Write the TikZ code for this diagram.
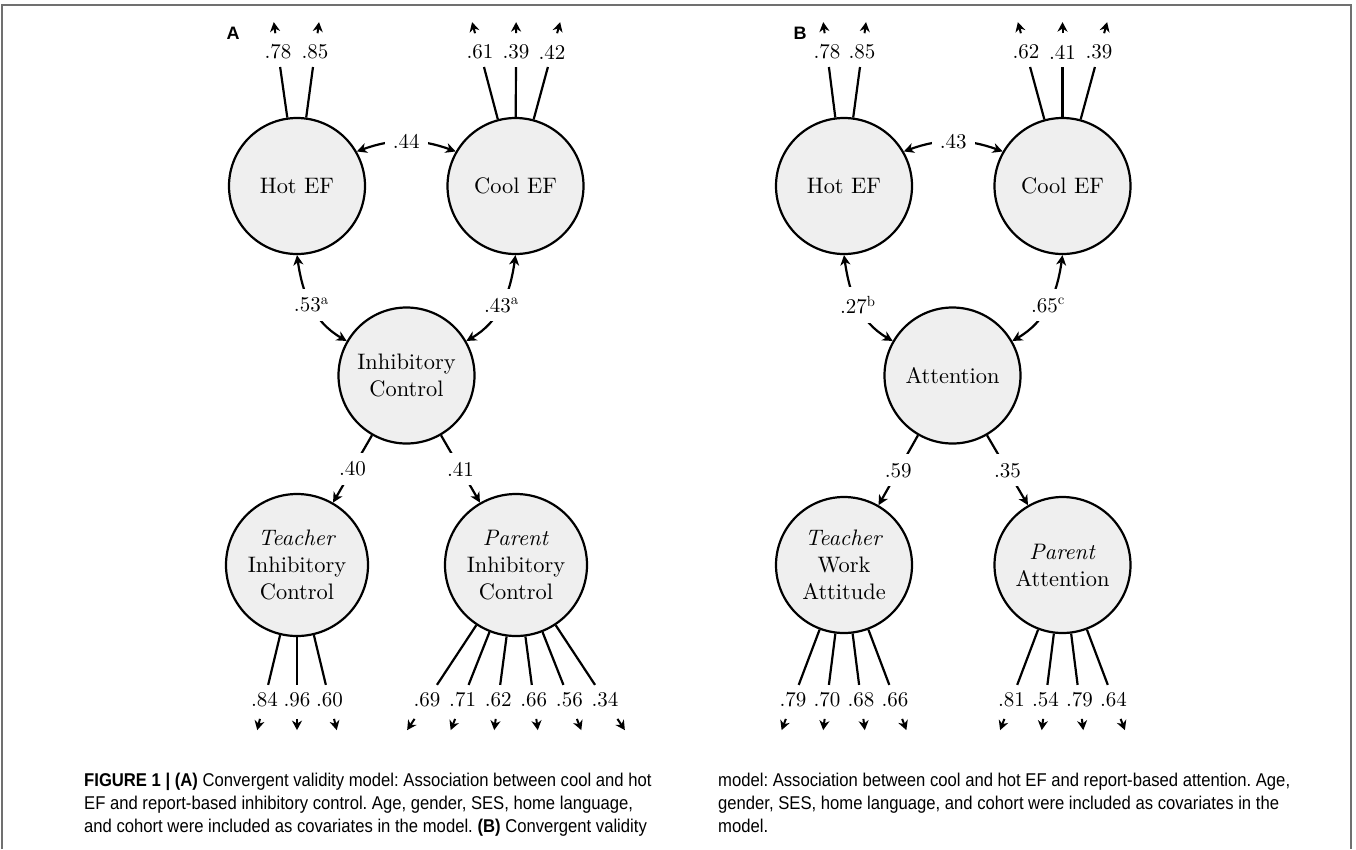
\documentclass[tikz,border=0pt]{standalone}
\usepackage{fontspec}
\setmainfont{lmroman10}[Extension=.otf, UprightFont=*-regular, ItalicFont=*-italic, BoldFont=*-bold]
\newfontfamily\capfont[FakeStretch=0.9]{Liberation Sans}
\newfontfamily\panfont{Liberation Sans}
\usetikzlibrary{arrows.meta,calc}
\definecolor{latfill}{HTML}{EFEFEF}
\definecolor{framecol}{HTML}{707070}
\newcommand\myind[5]{%
  \node[lab] (#2) at (#3,#4) {#5};
  \coordinate (#2e) at ($(#1.center)!0.888!(#2.center)$);
  \coordinate (#2s) at ($(#1.center)!1.14!(#2.center)$);
  \coordinate (#2t) at ($(#1.center)!1.223!(#2.center)$);
  \draw[indline] (#1) -- (#2e);
  \draw[indarr] (#2s) -- (#2t);
}
\newcommand\sups[1]{\textsuperscript{#1}}
\begin{document}
\begin{tikzpicture}[x=1pt,y=1pt,
  lat/.style={circle, draw, line width=2.2pt, fill=latfill, minimum size=136pt, inner sep=0pt, align=center, font=\fontsize{22.4}{27}\selectfont},
  latb/.style={lat, minimum size=142pt},
  lab/.style={inner sep=0pt, font=\fontsize{21}{25}\selectfont},
  clab/.style={fill=white, inner xsep=8pt, inner ysep=9pt, font=\fontsize{21}{25}\selectfont},
  indline/.style={line width=2.2pt},
  indarr/.style={line width=2pt, -{Stealth[length=9.5pt,width=10pt,inset=3pt]}},
  cov/.style={line width=2.2pt, {Stealth[length=10pt,width=10pt,inset=3pt]}-{Stealth[length=10pt,width=10pt,inset=3pt]}},
  path/.style={line width=2.2pt, -{Stealth[length=10pt,width=10pt,inset=3pt]}},
  panlab/.style={font=\panfont\bfseries\fontsize{18}{21}\selectfont, inner sep=0pt},
  capline/.style={anchor=base west, inner sep=0pt, font=\capfont\frenchspacing\fontsize{18.5}{22}\selectfont}
]
\useasboundingbox (0,0) rectangle (1356,-849);
% frame
\draw[framecol, line width=2pt] (2,-849) -- (2,-5) -- (1351,-5) -- (1351,-849);

% ---------------- Panel A ----------------
\node[panlab] (pA) at (233,-33) {A};
\node[lat] (hotA) at (297,-186) {Hot EF};
\node[lat] (coolA) at (515.5,-186) {Cool EF};
\node[lat] (icA) at (406.5,-375.5) {Inhibitory\\Control};
\node[latb] (tA) at (297,-565) {\textit{Teacher}\\Inhibitory\\Control};
\node[latb] (pAr) at (516,-565) {\textit{Parent}\\Inhibitory\\Control};

\myind{hotA}{ha1}{278}{-52}{.78}
\myind{hotA}{ha2}{315}{-52}{.85}
\myind{coolA}{ca1}{480}{-52}{.61}
\myind{coolA}{ca2}{516}{-52}{.39}
\myind{coolA}{ca3}{552}{-52}{.42}

\myind{tA}{ta1}{264.5}{-700}{.84}
\myind{tA}{ta2}{297}{-700}{.96}
\myind{tA}{ta3}{329.5}{-700}{.60}
\myind{pAr}{pa1}{427}{-700}{.69}
\myind{pAr}{pa2}{462.6}{-700}{.71}
\myind{pAr}{pa3}{498.2}{-700}{.62}
\myind{pAr}{pa4}{533.8}{-700}{.66}
\myind{pAr}{pa5}{569.4}{-700}{.56}
\myind{pAr}{pa6}{605}{-700}{.34}

\draw[cov] (hotA.30) to[bend left=20] node[clab] {.44} (coolA.150);
\draw[cov] (hotA.south) to[out=-82,in=150] node[clab] {.53\sups{a}} (icA.150);
\draw[cov] (coolA.south) to[out=-98,in=30] node[clab] {.43\sups{a}} (icA.30);
\draw[path] (icA.240) -- node[clab] {.40} (tA.60);
\draw[path] (icA.300) -- node[clab] {.41} (pAr.120);

% ---------------- Panel B ----------------
\node[panlab] (pB) at (800,-33) {B};
\node[lat] (hotB) at (844,-186) {Hot EF};
\node[lat] (coolB) at (1062.5,-186) {Cool EF};
\node[lat] (atB) at (952.5,-375.5) {Attention};
\node[lat] (tB) at (844,-565) {\textit{Teacher}\\Work\\Attitude};
\node[lat] (pBr) at (1062.5,-565) {\textit{Parent}\\Attention};

\myind{hotB}{hb1}{827}{-52}{.78}
\myind{hotB}{hb2}{862}{-52}{.85}
\myind{coolB}{cb1}{1026}{-52}{.62}
\myind{coolB}{cb2}{1062.5}{-52}{.41}
\myind{coolB}{cb3}{1099}{-52}{.39}

\myind{tB}{tb1}{793}{-700}{.79}
\myind{tB}{tb2}{827}{-700}{.70}
\myind{tB}{tb3}{861}{-700}{.68}
\myind{tB}{tb4}{895}{-700}{.66}
\myind{pBr}{pb1}{1011.5}{-700}{.81}
\myind{pBr}{pb2}{1045.5}{-700}{.54}
\myind{pBr}{pb3}{1079.5}{-700}{.79}
\myind{pBr}{pb4}{1113.5}{-700}{.64}

\draw[cov] (hotB.30) to[bend left=20] node[clab] {.43} (coolB.150);
\draw[cov] (hotB.south) to[out=-82,in=150] node[clab] {.27\sups{b}} (atB.150);
\draw[cov] (coolB.south) to[out=-98,in=30] node[clab] {.65\sups{c}} (atB.30);
\draw[path] (atB.240) -- node[clab] {.59} (tB.60);
\draw[path] (atB.300) -- node[clab] {.35} (pBr.120);

% ---------------- Caption ----------------
\node[capline] (c1) at (84,-786) {\textbf{FIGURE 1 | (A)} Convergent validity model: Association between cool and hot};
\node[capline] (c2) at (84,-809) {EF and report-based inhibitory control. Age, gender, SES, home language,};
\node[capline] (c3) at (84,-832) {and cohort were included as covariates in the model. \textbf{(B)} Convergent validity};
\node[capline] (c4) at (718,-786) {model: Association between cool and hot EF and report-based attention. Age,};
\node[capline] (c5) at (718,-809) {gender, SES, home language, and cohort were included as covariates in the};
\node[capline] (c6) at (718,-832) {model.};
\end{tikzpicture}
\end{document}
